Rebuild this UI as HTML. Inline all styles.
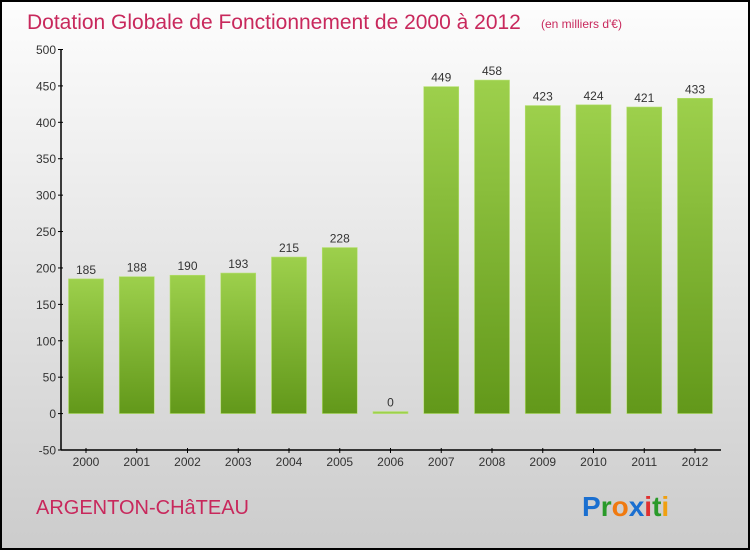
<!DOCTYPE html>
<html><head><meta charset="utf-8"><style>
html,body{margin:0;padding:0;}
body{width:750px;height:550px;overflow:hidden;}
svg{display:block;}
</style></head><body>
<svg id="chart" width="750" height="550" xmlns="http://www.w3.org/2000/svg">
<defs>
<linearGradient id="bg" x1="0" y1="0" x2="0" y2="1"><stop offset="0" stop-color="#fdfdfd"/><stop offset="1" stop-color="#cccccc"/></linearGradient>
<linearGradient id="bar" x1="0" y1="0" x2="0" y2="1"><stop offset="0" stop-color="#9dd04c"/><stop offset="1" stop-color="#62981a"/></linearGradient>
</defs>
<rect x="1" y="1" width="748" height="548" fill="url(#bg)" stroke="#000" stroke-width="2"/>
<text x="27" y="29" font-family="Liberation Sans, sans-serif" font-size="21" fill="#c8285c" style="font-weight:300">Dotation Globale de Fonctionnement de 2000 à 2012</text>
<text x="541" y="28" font-family="Liberation Sans, sans-serif" font-size="12" fill="#c8285c">(en milliers d'€)</text>
<g id="axes"></g>
<g id="bars"></g>
<text x="36" y="514" font-family="Liberation Sans, sans-serif" font-size="20" fill="#c8285c">ARGENTON-CHâTEAU</text>
<g font-family="Liberation Sans, sans-serif" font-size="28" font-weight="bold">
<text x="582" y="516"><tspan fill="#1a6fd0">P</tspan><tspan fill="#2a9a2a">r</tspan><tspan fill="#f07a10">o</tspan><tspan fill="#1a6fd0">x</tspan><tspan fill="#e03030">i</tspan><tspan fill="#2a9a2a">t</tspan><tspan fill="#f0a010">i</tspan></text>
</g>
</svg>
<script>
const categories = ["2000","2001","2002","2003","2004","2005","2006","2007","2008","2009","2010","2011","2012"];
const values = [185,188,190,193,215,228,0,449,458,423,424,421,433];
const yTicks = [-50,0,50,100,150,200,250,300,350,400,450,500];

const NS = "http://www.w3.org/2000/svg";
const x0 = 61, x1 = 721, yMin = -50, yMax = 500, yTop = 49.5, yBot = 450;
const firstC = 86, step = 50.75, bw = 35;
function yS(v){ return yBot - (v - yMin) / (yMax - yMin) * (yBot - yTop); }
function xS(i){ return firstC + i * step; }
function mk(tag, attrs, parent){ const e = document.createElementNS(NS, tag); for (const k in attrs) e.setAttribute(k, attrs[k]); parent.appendChild(e); return e; }

const axes = document.getElementById('axes');
const bars = document.getElementById('bars');
const yAxis = mk('line', {x1:x0, y1:yTop, x2:x0, y2:yBot, stroke:'#000', 'stroke-width':1.5}, axes);


const xAxis = mk('line', {x1:x0, y1:yBot, x2:x1, y2:yBot, stroke:'#000', 'stroke-width':1.5}, axes);


yTicks.forEach(t => {
  const y = yS(t);
  mk('line', {x1:x0-3, y1:y, x2:x0+2, y2:y, stroke:'#000'}, axes);
  const tx = mk('text', {x:x0-5, y:y+4.5, 'text-anchor':'end', 'font-family':'Liberation Sans, sans-serif', 'font-size':12, fill:'#333'}, axes);
  tx.textContent = t;
  
  
});
categories.forEach((c, i) => {
  const cx = xS(i);
  mk('line', {x1:cx, y1:yBot-2, x2:cx, y2:yBot+3, stroke:'#000'}, axes);
  const tx = mk('text', {x:cx, y:yBot+16, 'text-anchor':'middle', 'font-family':'Liberation Sans, sans-serif', 'font-size':12, fill:'#333'}, axes);
  tx.textContent = c;
  
  
  const v = values[i];
  const yt = yS(Math.max(v, 0)), yb = yS(0);
  const h = Math.max(yb - yt, 2);
  const r = mk('rect', {x:cx-bw/2, y:yb-h, width:bw, height:h, fill: v === 0 ? '#9dd04c' : 'url(#bar)', stroke:'#b5e070', 'stroke-width':0.6}, bars);
  
  
  const lb = mk('text', {x:cx, y:yb-h-5, 'text-anchor':'middle', 'font-family':'Liberation Sans, sans-serif', 'font-size':12, fill:'#333'}, bars);
  lb.textContent = v;
  
  
});
</script>
</body></html>
